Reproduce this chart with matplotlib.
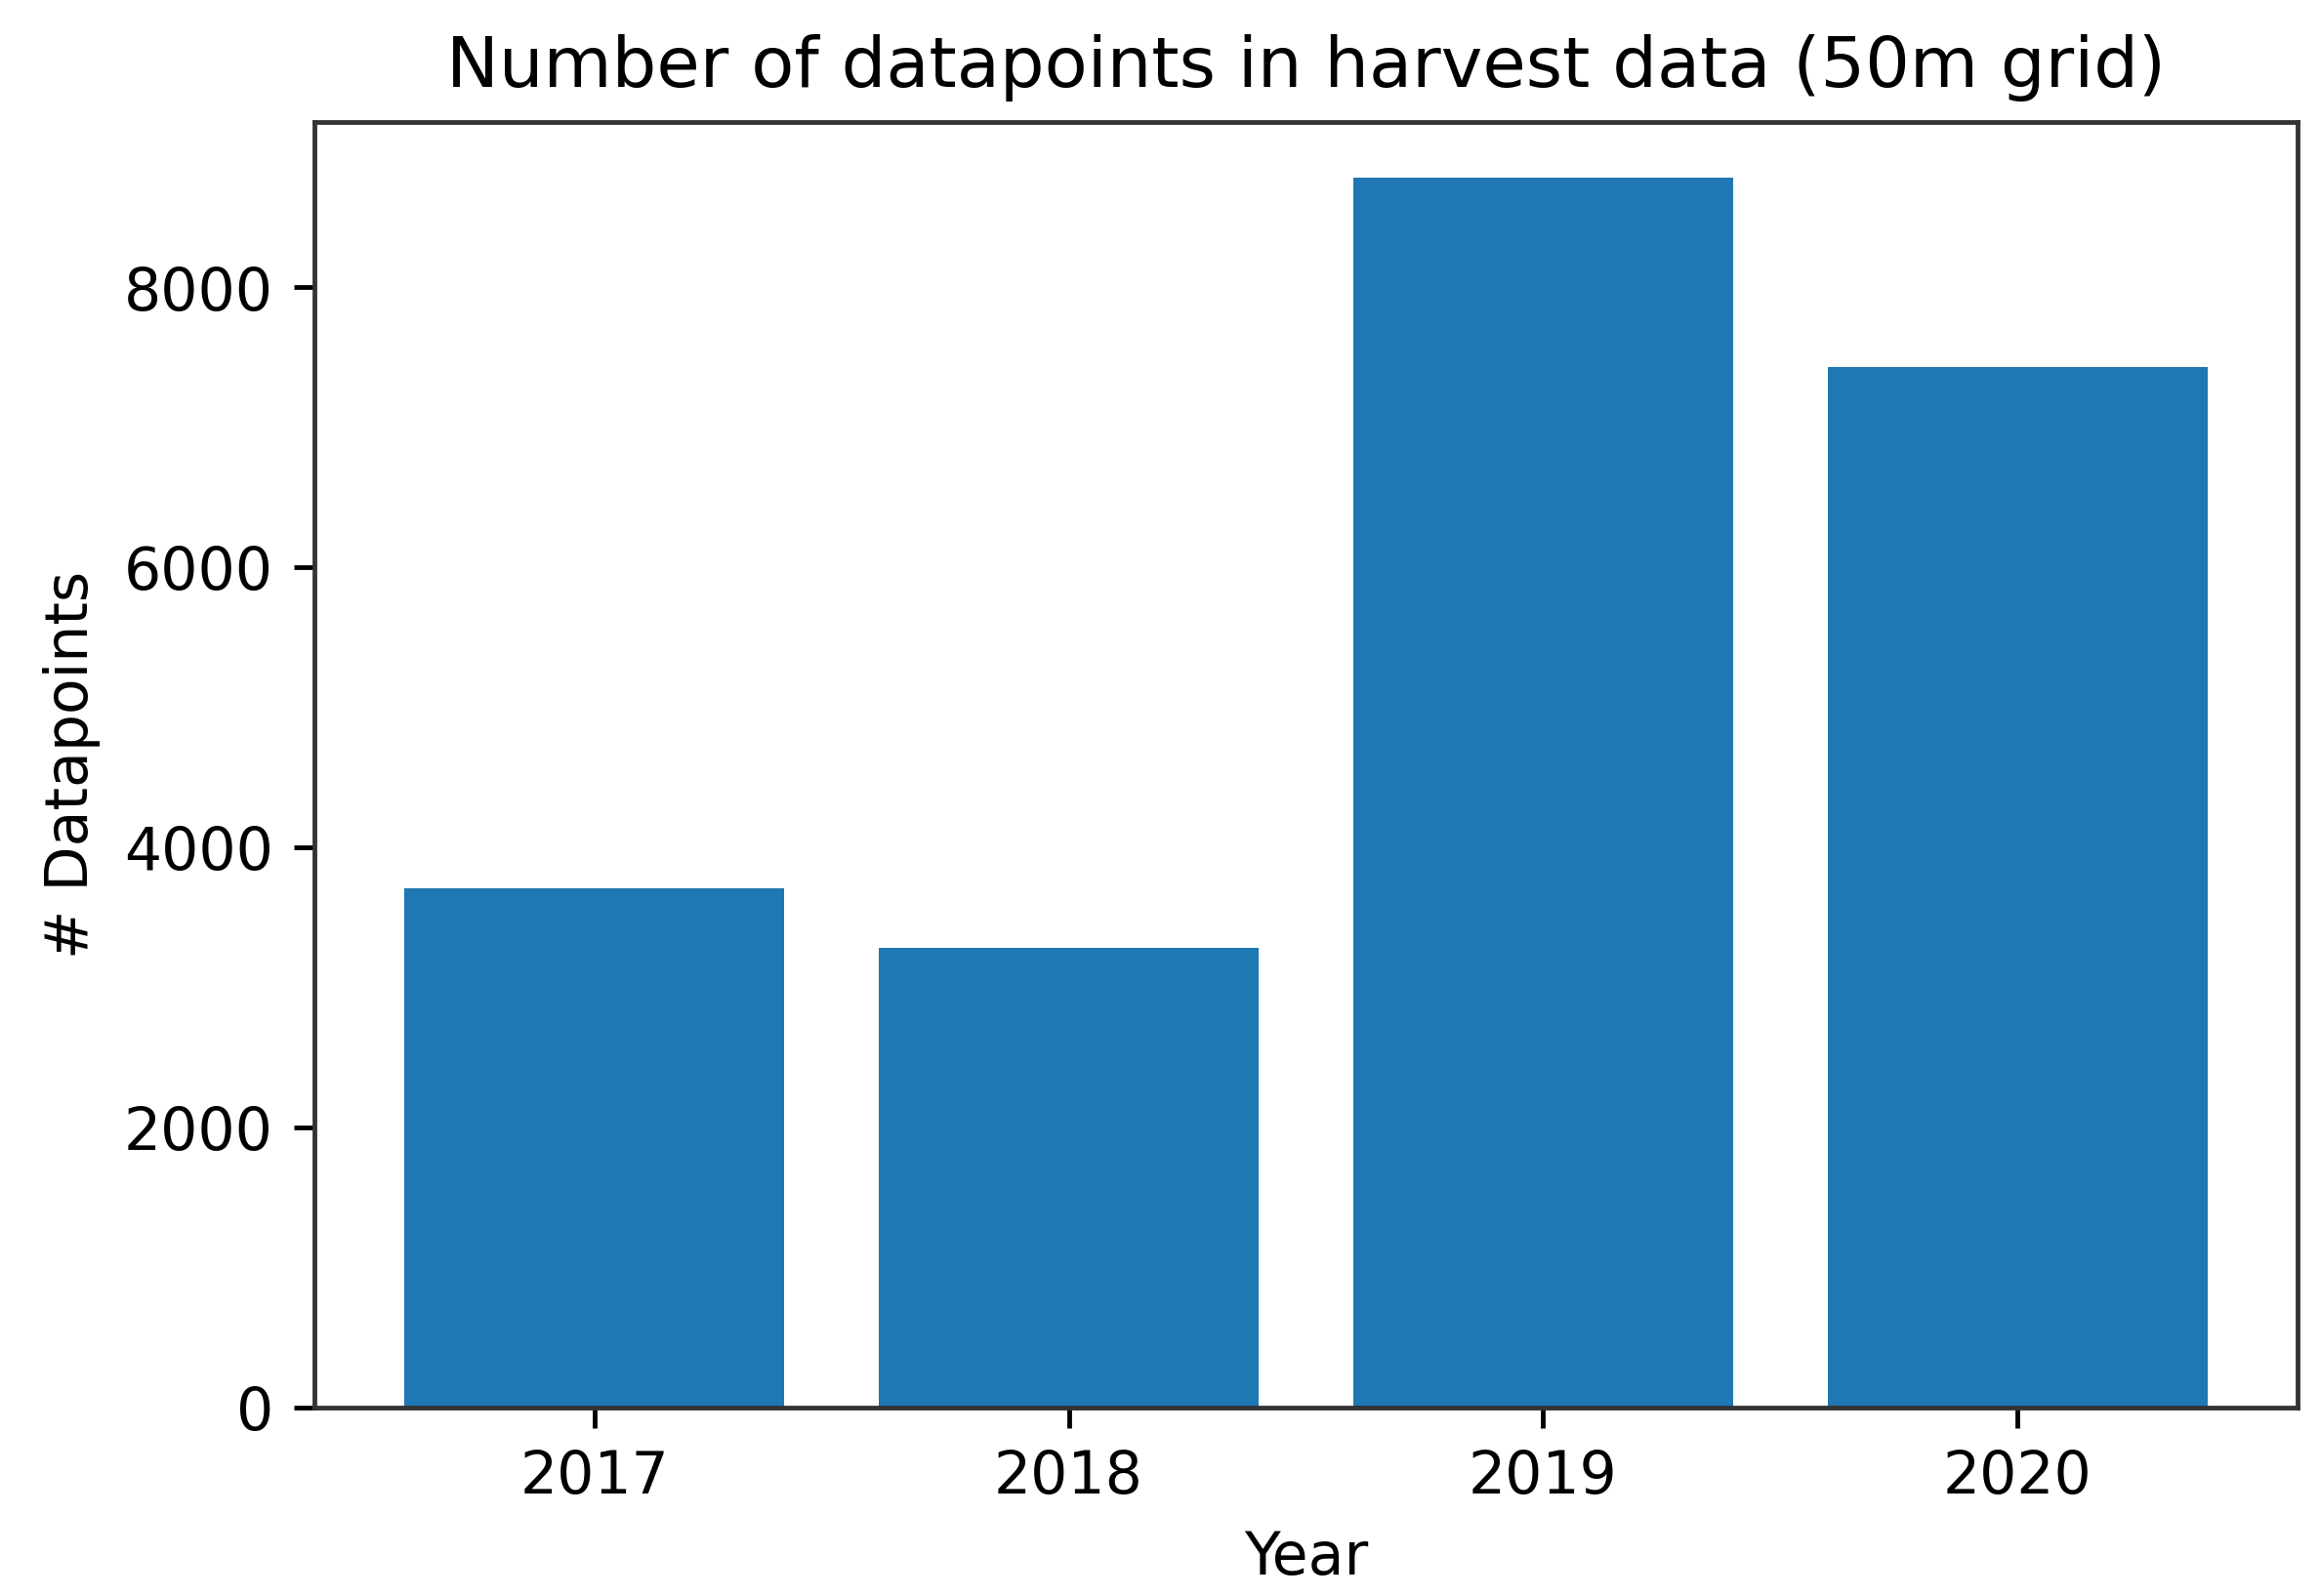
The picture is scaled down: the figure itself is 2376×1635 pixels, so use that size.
import matplotlib
matplotlib.use('Agg')
import matplotlib.pyplot as plt

years = ['2017', '2018', '2019', '2020']
datapoints = [3710, 3280, 8785, 7430]

fig = plt.figure(figsize=(5.5, 3.785), dpi=432)
ax = fig.add_axes([0.1355, 0.1183, 0.8548, 0.8053])
ax.bar(years, datapoints, color='#1f77b4')
ax.set_ylim(0, 9183)
ax.set_title('Number of datapoints in harvest data (50m grid)', fontsize=12)
ax.set_xlabel('Year')
ax.set_ylabel('# Datapoints')
for s in ax.spines.values():
    s.set_edgecolor('#333333')

fig.savefig('out.png', dpi=432)
